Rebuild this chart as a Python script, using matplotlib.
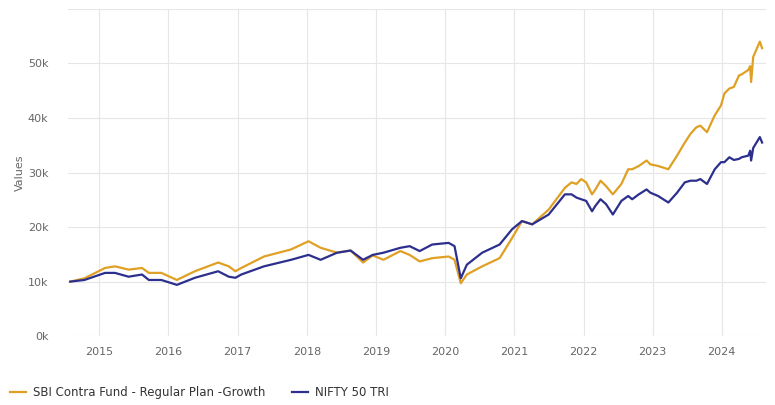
import pandas as pd
import matplotlib.pyplot as plt
import matplotlib.dates as mdates
from matplotlib.ticker import FuncFormatter, MultipleLocator

# Values (growth of 10k invested, in thousands)
dates = ["2014-08-01", "2014-10-15", "2015-02-01", "2015-03-25", "2015-06-05",
         "2015-08-15", "2015-09-20", "2015-11-25", "2016-02-15", "2016-05-20",
         "2016-09-20", "2016-11-15", "2016-12-20", "2017-01-20", "2017-05-20",
         "2017-10-10", "2018-01-10", "2018-03-15", "2018-06-10", "2018-08-20",
         "2018-10-25", "2018-12-15", "2019-02-10", "2019-05-10", "2019-06-28",
         "2019-08-20", "2019-10-25", "2020-01-20", "2020-02-20", "2020-03-24",
         "2020-04-25", "2020-07-15", "2020-10-15", "2020-12-20", "2021-02-10",
         "2021-04-05", "2021-07-01", "2021-09-25", "2021-10-30", "2021-11-25",
         "2021-12-20", "2022-01-15", "2022-02-15", "2022-03-05", "2022-04-01",
         "2022-04-30", "2022-06-05", "2022-07-20", "2022-08-25", "2022-09-15",
         "2022-10-20", "2022-11-30", "2022-12-20", "2023-01-30", "2023-03-25",
         "2023-05-10", "2023-06-20", "2023-07-20", "2023-08-20", "2023-09-10",
         "2023-10-15", "2023-11-25", "2023-12-28", "2024-01-15", "2024-02-10",
         "2024-03-05", "2024-04-01", "2024-04-15", "2024-05-20", "2024-05-30",
         "2024-06-04", "2024-06-15", "2024-07-20", "2024-08-01"]

sbi_contra = [10.0, 10.6, 12.5, 12.8, 12.2, 12.5, 11.6, 11.6, 10.3, 11.9,
              13.5, 12.8, 11.9, 12.5, 14.6, 15.9, 17.4, 16.2, 15.3, 15.7,
              13.5, 14.8, 14.0, 15.6, 14.9, 13.7, 14.3, 14.6, 14.0, 9.7,
              11.3, 12.8, 14.3, 18.0, 21.1, 20.5, 23.2, 27.2, 28.2, 27.9,
              28.8, 28.2, 26.0, 26.9, 28.5, 27.5, 26.0, 27.9, 30.6, 30.6,
              31.2, 32.2, 31.5, 31.2, 30.6, 33.1, 35.5, 37.1, 38.3, 38.6,
              37.4, 40.5, 42.3, 44.5, 45.4, 45.7, 47.8, 48.0, 48.8, 49.5,
              46.6, 51.2, 54.0, 52.8]

nifty_tri = [10.0, 10.3, 11.6, 11.6, 10.9, 11.3, 10.3, 10.3, 9.4, 10.7,
             11.9, 10.9, 10.7, 11.3, 12.8, 14.0, 14.9, 14.0, 15.3, 15.7,
             14.0, 14.9, 15.3, 16.2, 16.5, 15.6, 16.8, 17.1, 16.5, 10.6,
             13.1, 15.3, 16.8, 19.6, 21.1, 20.5, 22.3, 26.0, 26.0, 25.4,
             25.1, 24.8, 22.9, 23.9, 25.1, 24.2, 22.3, 24.8, 25.7, 25.1,
             26.0, 26.9, 26.3, 25.7, 24.5, 26.3, 28.2, 28.5, 28.5, 28.8,
             27.9, 30.6, 31.9, 31.9, 32.8, 32.3, 32.5, 32.8, 33.1, 34.0,
             32.2, 34.5, 36.5, 35.5]

series_names = ["SBI Contra Fund - Regular Plan -Growth", "NIFTY 50 TRI"]
colors = ["#DFA024", "#2C2F8E"]

x = pd.to_datetime(dates)

fig = plt.figure(figsize=(7.75, 4.05), dpi=100)
ax = fig.add_axes([0.0877, 0.170, 0.9003, 0.808])

for vals, name, c in zip([sbi_contra, nifty_tri], series_names, colors):
    ax.plot(x, [v * 1000 for v in vals], color=c, lw=1.6, label=name)

ax.set_ylim(0, 60000)
ax.set_xlim(pd.Timestamp("2014-07-20"), pd.Timestamp("2024-08-20"))
ax.yaxis.set_major_locator(MultipleLocator(10000))
ax.yaxis.set_major_formatter(FuncFormatter(lambda v, p: "" if v >= 60000 else f"{int(v/1000)}k"))
ax.xaxis.set_major_locator(mdates.YearLocator())
ax.xaxis.set_major_formatter(mdates.DateFormatter("%Y"))

ax.grid(True, color="#E6E6E6", lw=0.8)
ax.set_axisbelow(True)
for s in ax.spines.values():
    s.set_visible(False)
ax.tick_params(length=0, labelsize=8, colors="#666666", pad=8)
ax.tick_params(axis="y", pad=14)
ax.set_ylabel("Values", fontsize=8, color="#666666", labelpad=2)

ax.legend(loc="lower left", bbox_to_anchor=(-0.098, -0.225), ncol=2, frameon=False,
          fontsize=8.5, labelcolor="#333333", handlelength=1.3, handletextpad=0.6,
          columnspacing=2.3)

fig.savefig("out.png", dpi=100)
